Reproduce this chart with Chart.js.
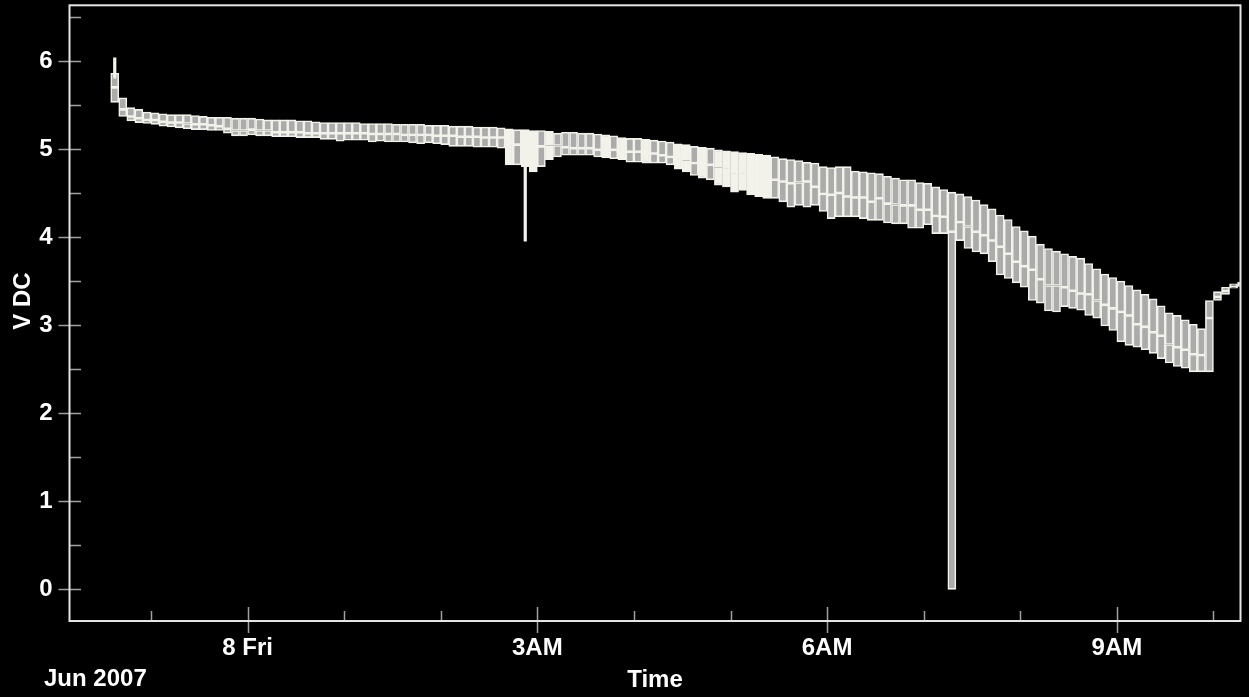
<!DOCTYPE html>
<html>
<head>
<meta charset="utf-8">
<script src="https://cdn.jsdelivr.net/npm/chart.js@4.4.0/dist/chart.umd.min.js"></script>
<style>
html,body{margin:0;padding:0;background:#000;}
canvas{display:block;background:#000;}
</style>
</head>
<body>
<canvas id="c" width="1249" height="697"></canvas>
<script>
// ---- DATA (5-minute buckets, start time of each bucket; Jun 7 22:35 -> Jun 8 10:15) ----
const bucketStart = [
 '22:35','22:40','22:45','22:50','22:55','23:00','23:05','23:10','23:15','23:20','23:25','23:30','23:35','23:40','23:45','23:50','23:55',
 '00:00','00:05','00:10','00:15','00:20','00:25','00:30','00:35','00:40','00:45','00:50','00:55',
 '01:00','01:05','01:10','01:15','01:20','01:25','01:30','01:35','01:40','01:45','01:50','01:55',
 '02:00','02:05','02:10','02:15','02:20','02:25','02:30','02:35','02:40','02:45','02:50','02:55',
 '03:00','03:05','03:10','03:15','03:20','03:25','03:30','03:35','03:40','03:45','03:50','03:55',
 '04:00','04:05','04:10','04:15','04:20','04:25','04:30','04:35','04:40','04:45','04:50','04:55',
 '05:00','05:05','05:10','05:15','05:20','05:25','05:30','05:35','05:40','05:45','05:50','05:55',
 '06:00','06:05','06:10','06:15','06:20','06:25','06:30','06:35','06:40','06:45','06:50','06:55',
 '07:00','07:05','07:10','07:15','07:20','07:25','07:30','07:35','07:40','07:45','07:50','07:55',
 '08:00','08:05','08:10','08:15','08:20','08:25','08:30','08:35','08:40','08:45','08:50','08:55',
 '09:00','09:05','09:10','09:15','09:20','09:25','09:30','09:35','09:40','09:45','09:50','09:55',
 '10:00','10:05','10:10','10:15'
];
const highV = [
 5.86,5.58,5.47,5.45,5.42,5.41,5.40,5.39,5.39,5.39,5.38,5.37,5.36,5.36,5.36,5.35,5.35,
 5.35,5.34,5.33,5.33,5.33,5.33,5.32,5.32,5.31,5.30,5.30,5.30,
 5.30,5.30,5.29,5.29,5.29,5.29,5.28,5.28,5.28,5.28,5.27,5.27,
 5.27,5.26,5.26,5.26,5.25,5.25,5.25,5.24,5.23,5.22,5.22,5.21,
 5.21,5.20,5.18,5.19,5.19,5.18,5.18,5.17,5.16,5.15,5.13,5.12,
 5.12,5.11,5.10,5.09,5.08,5.06,5.05,5.03,5.02,5.01,4.99,4.98,
 4.97,4.96,4.95,4.94,4.93,4.91,4.89,4.88,4.87,4.85,4.84,4.80,
 4.79,4.80,4.80,4.75,4.74,4.73,4.72,4.69,4.67,4.65,4.65,4.62,
 4.61,4.57,4.54,4.51,4.49,4.46,4.42,4.37,4.32,4.25,4.20,4.12,
 4.07,4.01,3.92,3.87,3.84,3.81,3.78,3.76,3.70,3.64,3.58,3.54,
 3.50,3.45,3.40,3.35,3.30,3.22,3.14,3.11,3.06,3.01,2.96,3.28,
 3.38,3.43,3.47,3.49
];
const midV = [
 5.70,5.45,5.37,5.35,5.33,5.33,5.31,5.30,5.30,5.29,5.28,5.28,5.27,5.26,5.23,5.21,5.21,
 5.22,5.21,5.21,5.19,5.19,5.19,5.19,5.18,5.18,5.18,5.18,5.18,
 5.18,5.18,5.18,5.17,5.17,5.17,5.17,5.16,5.16,5.16,5.16,5.15,
 5.15,5.15,5.14,5.14,5.14,5.13,5.13,5.13,5.07,5.05,5.00,5.02,
 5.03,5.04,5.04,5.02,5.01,5.01,5.01,4.99,4.98,4.99,4.97,4.97,
 4.97,4.95,4.95,4.93,4.91,4.89,4.87,4.84,4.83,4.82,4.79,4.76,
 4.74,4.74,4.72,4.70,4.68,4.65,4.63,4.61,4.62,4.63,4.57,4.49,
 4.48,4.50,4.46,4.45,4.45,4.40,4.44,4.38,4.37,4.36,4.36,4.31,
 4.31,4.24,4.23,4.06,4.17,4.12,4.06,4.02,3.96,3.89,3.81,3.72,
 3.67,3.63,3.52,3.45,3.45,3.43,3.39,3.36,3.35,3.28,3.23,3.19,
 3.15,3.11,3.01,2.98,2.92,2.88,2.78,2.75,2.72,2.67,2.66,3.08,
 3.32,3.39,3.44,3.47
];
const lowV = [
 5.53,5.37,5.32,5.30,5.29,5.28,5.26,5.25,5.24,5.23,5.22,5.22,5.21,5.21,5.18,5.15,5.15,
 5.16,5.15,5.15,5.14,5.14,5.14,5.13,5.13,5.13,5.11,5.11,5.09,
 5.10,5.10,5.10,5.08,5.09,5.08,5.08,5.08,5.07,5.06,5.07,5.06,
 5.05,5.03,5.03,5.03,5.02,5.02,5.02,5.01,4.82,4.82,4.80,4.74,
 4.80,4.88,4.91,4.93,4.93,4.93,4.93,4.91,4.90,4.89,4.88,4.85,
 4.85,4.84,4.84,4.84,4.82,4.77,4.74,4.70,4.67,4.65,4.59,4.57,
 4.51,4.53,4.48,4.46,4.44,4.44,4.40,4.34,4.36,4.34,4.36,4.29,
 4.21,4.23,4.23,4.23,4.21,4.19,4.19,4.16,4.15,4.15,4.10,4.10,
 4.14,4.04,4.04,0.00,3.96,3.87,3.83,3.81,3.72,3.57,3.53,3.48,
 3.43,3.28,3.25,3.16,3.15,3.21,3.19,3.17,3.11,3.08,2.99,2.94,
 2.81,2.77,2.75,2.72,2.68,2.62,2.57,2.53,2.51,2.47,2.47,2.47,
 3.28,3.35,3.42,3.44
];
// buckets with many closely spaced samples (drawn as solid columns)
const denseBuckets = ['02:40','02:50','02:55','03:05','03:40','03:50','04:05','04:25','04:30','04:40','04:50','04:55','05:00','05:05','05:10','05:15','05:20'];
// isolated single-sample excursions beyond the bucket box
const spikeBucket = ['22:35','02:50'];
const spikeLow = [5.80, 3.95];
const spikeHigh = [6.04, 4.85];

const hourTicks = ['23:00','00:00','01:00','02:00','03:00','04:00','05:00','06:00','07:00','08:00','09:00','10:00'];
const xTickLabels = {'00:00':'8 Fri','03:00':'3AM','06:00':'6AM','09:00':'9AM'};
const yTickValues = [0,0.5,1,1.5,2,2.5,3,3.5,4,4.5,5,5.5,6,6.5];
const yTickLabels = ['0','','1','','2','','3','','4','','5','','6',''];
const monthLabel = 'Jun 2007';
const xTitle = 'Time';
const yTitle = 'V DC';

// ---- helpers ----
const BUCKET_MIN = 5;
function toMin(s){ const p = s.split(':').map(Number); let v = p[0]*60 + p[1]; if (p[0] >= 12) v -= 1440; return v; }
const denseSet = new Set(denseBuckets);
const labelByMin = {};
Object.keys(xTickLabels).forEach(k => labelByMin[toMin(k)] = xTickLabels[k]);

const FILL = '#ababab';
const EDGE = '#f2f2ea';
const FONT = {family: '"Liberation Sans", Arial, Helvetica, sans-serif', size: 24, weight: 'bold'};

const lowerData = bucketStart.map((s,i) => ({x: toMin(s) + BUCKET_MIN/2, y: [lowV[i], midV[i]]}));
const upperData = bucketStart.map((s,i) => ({x: toMin(s) + BUCKET_MIN/2, y: [midV[i], highV[i]]}));
const spikeData = spikeBucket.map((s,i) => ({x: toMin(s) + BUCKET_MIN/2, y: [spikeLow[i], spikeHigh[i]]}));

const barStyle = {
  backgroundColor: ctx => denseSet.has(bucketStart[ctx.dataIndex]) ? EDGE : FILL,
  borderColor: EDGE,
  borderWidth: 1.6,
  borderSkipped: false,
  grouped: false,
  barPercentage: 1,
  categoryPercentage: 1,
  clip: 0
};

function noPad(s){ s.paddingTop = 0; s.paddingBottom = 0; s.paddingLeft = 0; s.paddingRight = 0; }

const decor = {
  id: 'decor',
  afterDraw(chart){
    const {ctx, chartArea: a, scales: {x, y}} = chart;
    ctx.save();
    ctx.strokeStyle = '#a0a0a0';
    ctx.lineWidth = 1.5;
    x.ticks.forEach(t => {
      const px = Math.round(x.getPixelForValue(t.value)) + 0.5;
      const major = labelByMin[t.value] !== undefined;
      ctx.beginPath();
      ctx.moveTo(px, a.bottom - (major ? 14 : 10));
      ctx.lineTo(px, a.bottom + (major ? 12 : 0));
      ctx.stroke();
    });
    y.ticks.forEach(t => {
      const py = Math.round(y.getPixelForValue(t.value)) + 0.5;
      const major = Number.isInteger(t.value);
      ctx.beginPath();
      ctx.moveTo(a.left - (major ? 11 : 0), py);
      ctx.lineTo(a.left + 11.5, py);
      ctx.stroke();
    });
    ctx.strokeStyle = '#e4e4e4';
    ctx.lineWidth = 2;
    ctx.strokeRect(a.left, a.top, a.right - a.left, a.bottom - a.top);

    ctx.fillStyle = '#ffffff';
    ctx.font = 'bold 24px "Liberation Sans", Arial, sans-serif';
    ctx.textBaseline = 'middle';
    ctx.textAlign = 'left';
    ctx.fillText(monthLabel, 44, 679);
    ctx.textAlign = 'center';
    ctx.fillText(xTitle, (a.left + a.right)/2, 680);
    ctx.translate(23, 301);
    ctx.rotate(-Math.PI/2);
    ctx.fillText(yTitle, 0, 0);
    ctx.restore();
  }
};

new Chart(document.getElementById('c'), {
  type: 'bar',
  data: {
    datasets: [
      {label: 'spikes', data: spikeData, backgroundColor: EDGE, borderWidth: 0, grouped: false,
       barPercentage: 0.4, categoryPercentage: 1, clip: 0},
      Object.assign({label: 'low-mid', data: lowerData}, barStyle),
      Object.assign({label: 'mid-high', data: upperData}, barStyle)
    ]
  },
  options: {
    responsive: false,
    animation: false,
    events: [],
    layout: {padding: {top: 5.3, right: 8.5, bottom: 0, left: 0}},
    plugins: {legend: {display: false}, tooltip: {enabled: false}},
    scales: {
      x: {
        type: 'linear',
        min: -110.6,
        max: 616.8,
        offset: false,
        grid: {display: false, drawTicks: false},
        border: {display: false},
        afterBuildTicks: s => { s.ticks = hourTicks.map(h => ({value: toMin(h)})); },
        afterFit: s => { s.height = 76; noPad(s); },
        ticks: {
          autoSkip: false, maxRotation: 0, minRotation: 0,
          padding: 13,
          color: '#ffffff',
          font: FONT,
          callback: v => labelByMin[v] !== undefined ? labelByMin[v] : ''
        }
      },
      y: {
        min: -0.36,
        max: 6.632,
        grid: {display: false, drawTicks: false},
        border: {display: false},
        afterBuildTicks: s => { s.ticks = yTickValues.map(v => ({value: v})); },
        afterFit: s => { s.width = 69.5; noPad(s); },
        ticks: {
          padding: 17,
          color: '#ffffff',
          font: FONT,
          callback: v => { const k = yTickValues.indexOf(v); return k >= 0 ? yTickLabels[k] : ''; }
        }
      }
    }
  },
  plugins: [decor]
});
</script>
</body>
</html>
